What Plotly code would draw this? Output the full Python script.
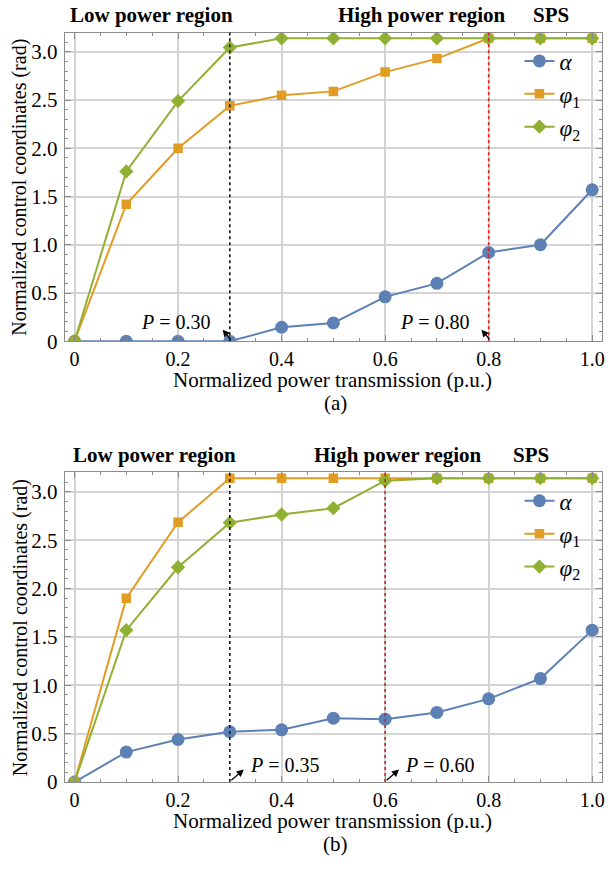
import plotly.graph_objects as go

# ---------------- data ----------------
P = [0.0, 0.1, 0.2, 0.3, 0.4, 0.5, 0.6, 0.7, 0.8, 0.9, 1.0]

a_alpha = [0.0, 0.0, 0.0, 0.0, 0.145, 0.19, 0.46, 0.60, 0.92, 1.00, 1.57]
a_phi1 = [0.0, 1.42, 2.00, 2.44, 2.55, 2.59, 2.79, 2.93, 3.14, 3.14, 3.14]
a_phi2 = [0.0, 1.76, 2.49, 3.045, 3.14, 3.14, 3.14, 3.14, 3.14, 3.14, 3.14]

b_alpha = [0.0, 0.31, 0.44, 0.52, 0.54, 0.66, 0.65, 0.72, 0.86, 1.07, 1.57]
b_phi1 = [0.0, 1.90, 2.685, 3.14, 3.14, 3.14, 3.14, 3.14, 3.14, 3.14, 3.14]
b_phi2 = [0.0, 1.57, 2.22, 2.68, 2.765, 2.83, 3.115, 3.14, 3.14, 3.14, 3.14]

a_lines = [0.3, 0.8]          # black, red dotted
b_lines = [0.3, 0.6]
a_labels = ["<i>P</i> = 0.30", "<i>P</i> = 0.80"]
b_labels = ["<i>P</i> = 0.35", "<i>P</i> = 0.60"]

x_ticks = [0, 0.2, 0.4, 0.6, 0.8, 1.0]
x_ticktext = ["0", "0.2", "0.4", "0.6", "0.8", "1.0"]
y_ticks = [0, 0.5, 1.0, 1.5, 2.0, 2.5, 3.0]
y_ticktext = ["0", "0.5", "1.0", "1.5", "2.0", "2.5", "3.0"]

region_labels = ["Low power region", "High power region", "SPS"]
names = ["<i>α</i>", "<i>φ</i><sub>1</sub>", "<i>φ</i><sub>2</sub>"]
colors = ["#5E81B5", "#E19C24", "#8FB032"]
symbols = ["circle", "square", "diamond"]
msizes = [13, 9.5, 11]

FONT = "Liberation Serif"
W, H = 613, 871

fig = go.Figure()

panels = [
    dict(series=[a_alpha, a_phi1, a_phi2], xa="x", ya="y", leg="legend",
         lines=a_lines, labels=a_labels),
    dict(series=[b_alpha, b_phi1, b_phi2], xa="x2", ya="y2", leg="legend2",
         lines=b_lines, labels=b_labels),
]

for pi, p in enumerate(panels):
    for s, nm, c, sym, ms in zip(p["series"], names, colors, symbols, msizes):
        fig.add_trace(go.Scatter(
            x=P, y=s, name=nm, mode="lines+markers",
            line=dict(color=c, width=2),
            marker=dict(symbol=sym, size=ms, color=c),
            xaxis=p["xa"], yaxis=p["ya"], legend=p["leg"],
            cliponaxis=True,
        ))

# plot frames in pixels
frames = [(65, 605, 33, 346), (65, 605, 479, 793)]

def dom(f):
    x0, x1, y0, y1 = f
    return [x0 / W, x1 / W], [1 - y1 / H, 1 - y0 / H]

axis_common = dict(
    showline=True, linecolor="#8c8c8c", linewidth=1, mirror="allticks",
    ticks="inside", ticklen=6, tickcolor="#8c8c8c", tickwidth=1,
    showgrid=True, gridcolor="#d4d4d4", gridwidth=1.5,
    zeroline=False,
)

layout_axes = {}
for i, f in enumerate(frames):
    xd, yd = dom(f)
    sfx = "" if i == 0 else "2"
    layout_axes["xaxis" + sfx] = dict(
        axis_common, domain=xd, range=[-0.019, 1.019],
        tickvals=x_ticks, ticktext=x_ticktext,
        anchor="y" + sfx,
        tickfont=dict(family=FONT, size=20, color="black"),
        minor=dict(ticks="inside", ticklen=3, dtick=0.05, tick0=0,
                   tickcolor="#8c8c8c", showgrid=False),
    )
    layout_axes["yaxis" + sfx] = dict(
        axis_common, domain=yd, range=[0, 3.2],
        tickvals=y_ticks, ticktext=y_ticktext,
        anchor="x" + sfx, ticklabelstandoff=2,
        tickfont=dict(family=FONT, size=21, color="black"),
        minor=dict(ticks="inside", ticklen=3, dtick=0.1, tick0=0,
                   tickcolor="#8c8c8c", showgrid=False),
    )

fig.update_layout(**layout_axes)

shapes = []
annotations = []
line_colors = ["#1a1a1a", "#d42020"]
for i, p in enumerate(panels):
    xa, ya = p["xa"], p["ya"]
    for lx, lc in zip(p["lines"], line_colors):
        shapes.append(dict(type="line", xref=xa, yref=ya + " domain",
                           x0=lx, x1=lx, y0=0, y1=1,
                           line=dict(color=lc, width=1.6, dash="dot")))

# P annotations: (a) text left of line, arrow up-left; (b) text right, arrow up-right
for (lx, lab) in zip(a_lines, a_labels):
    annotations.append(dict(xref="x", yref="y", x=lx - 0.014, y=0.12,
                            ax=lx + 0.004, ay=0.005, axref="x", ayref="y",
                            text="", showarrow=True, arrowhead=2, arrowsize=1.2,
                            arrowwidth=1.2, arrowcolor="black"))
    annotations.append(dict(xref="x", yref="y", x=lx - 0.033, y=0.2,
                            text=lab, showarrow=False, xanchor="right",
                            yanchor="middle",
                            font=dict(family=FONT, size=20, color="black")))
for (lx, lab) in zip(b_lines, b_labels):
    annotations.append(dict(xref="x2", yref="y2", x=lx + 0.027, y=0.13,
                            ax=lx, ay=0.005, axref="x2", ayref="y2",
                            text="", showarrow=True, arrowhead=2, arrowsize=1.2,
                            arrowwidth=1.2, arrowcolor="black"))
    annotations.append(dict(xref="x2", yref="y2", x=lx + 0.035, y=0.18,
                            text=lab, showarrow=False, xanchor="left",
                            yanchor="middle",
                            font=dict(family=FONT, size=20, color="black")))

# region labels above each panel
region_x = [[152, 424, 554], [155, 400, 534]]
region_y = [15, 461]
for i in range(2):
    for lab, px in zip(region_labels, region_x[i]):
        annotations.append(dict(xref="paper", yref="paper", x=px / W,
                                y=1 - region_y[i] / H, text="<b>" + lab + "</b>",
                                showarrow=False, xanchor="center", yanchor="middle",
                                font=dict(family=FONT, size=21, color="black")))

# axis titles and captions
captions = ["(a)", "(b)"]
for i, f in enumerate(frames):
    x0, x1, y0, y1 = f
    annotations.append(dict(xref="paper", yref="paper", x=20 / W,
                            y=1 - ((y0 + y1) / 2) / H,
                            text="Normalized control coordinates (rad)",
                            textangle=-90, showarrow=False,
                            xanchor="center", yanchor="middle",
                            font=dict(family=FONT, size=20, color="black")))
    annotations.append(dict(xref="paper", yref="paper", x=334 / W,
                            y=1 - (y1 + 39) / H,
                            text="Normalized power transmission (p.u.)",
                            showarrow=False, xanchor="center", yanchor="middle",
                            font=dict(family=FONT, size=21, color="black")))
    annotations.append(dict(xref="paper", yref="paper", x=337 / W,
                            y=1 - (y1 + 63) / H, text=captions[i],
                            showarrow=False, xanchor="center", yanchor="middle",
                            font=dict(family=FONT, size=21, color="black")))

legend_common = dict(
    xanchor="left", yanchor="top", bgcolor="rgba(0,0,0,0)",
    font=dict(family=FONT, size=23, color="black"),
    itemwidth=30, tracegroupgap=0,
)

fig.update_layout(
    width=W, height=H,
    margin=dict(l=0, r=0, t=0, b=0),
    paper_bgcolor="white", plot_bgcolor="white",
    showlegend=True,
    legend=dict(legend_common, x=522 / W, y=1 - 40 / H),
    legend2=dict(legend_common, x=522 / W, y=1 - 486 / H),
    shapes=shapes, annotations=annotations,
)

fig.write_html("out.html")
